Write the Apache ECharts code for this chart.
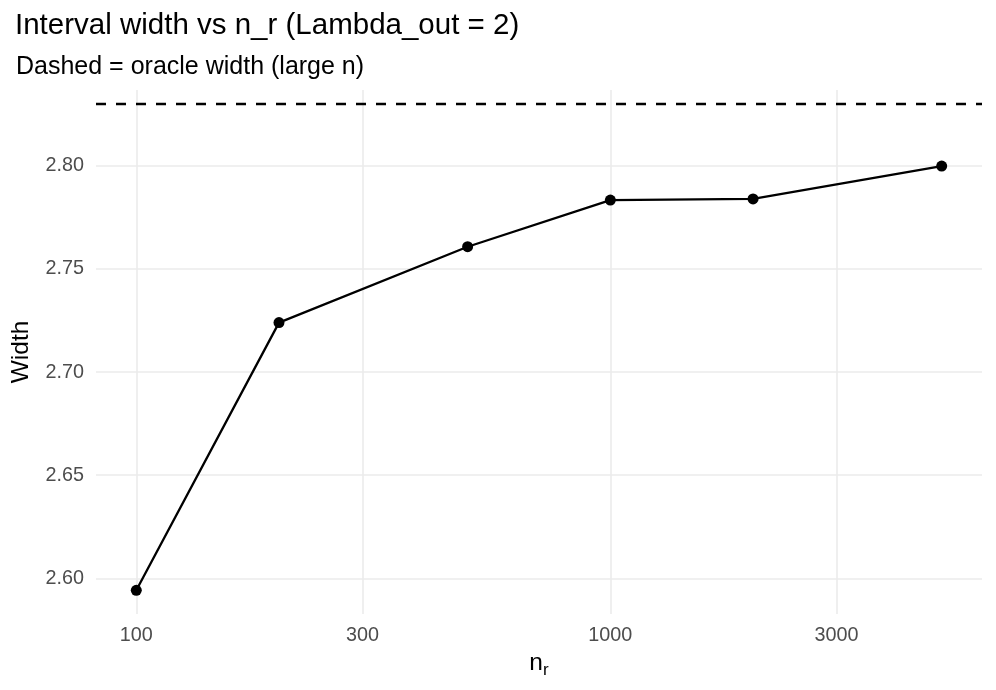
<!DOCTYPE html>
<html>
<head>
<meta charset="utf-8">
<script src="https://cdn.jsdelivr.net/npm/echarts@6/dist/echarts.min.js"></script>
<style>
  html, body { margin: 0; padding: 0; background: #fff; }
  #chart { width: 996px; height: 690px; }
</style>
</head>
<body>
<div id="chart"></div>
<script>
// ---- data ----
const nR = [100, 200, 500, 1000, 2000, 5000];
const widthValues = [2.5942, 2.7240, 2.7608, 2.7834, 2.7840, 2.7999];
const oracleWidth = [2.8253];
const xTickValues = [100, 300, 1000, 3000];
const yTickValues = [2.60, 2.65, 2.70, 2.75, 2.80];

const FONT = '"Liberation Sans", Arial, Helvetica, sans-serif';
const log10 = v => Math.log10(v);

const seriesData = nR.map((n, i) => [log10(n), widthValues[i]]);

const chart = echarts.init(document.getElementById('chart'), null, { renderer: 'canvas' });
chart.setOption({
  animation: false,
  backgroundColor: '#ffffff',
  title: [
    {
      text: 'Interval width vs n_r (Lambda_out = 2)',
      left: 10, top: 6,
      textStyle: { fontFamily: FONT, fontSize: 29.5, fontWeight: 'normal', color: '#000' }
    },
    {
      text: 'Dashed = oracle width (large n)',
      left: 11, top: 50,
      textStyle: { fontFamily: FONT, fontSize: 25, fontWeight: 'normal', color: '#000' }
    }
  ],
  grid: { left: 96, right: 14, top: 90, bottom: 76, containLabel: false, outerBoundsMode: 'none' },
  xAxis: {
    type: 'value',
    min: 1.915, max: 3.784,
    name: '{n|n}{r|r}',
    nameLocation: 'middle',
    nameGap: 31,
    nameTextStyle: {
      fontFamily: FONT, color: '#000',
      rich: {
        n: { fontFamily: FONT, fontSize: 24.5, color: '#000' },
        r: { fontFamily: FONT, fontSize: 17, color: '#000', padding: [14, 0, 0, 0] }
      }
    },
    axisLine: { show: false },
    axisTick: { show: false, customValues: xTickValues.map(log10) },
    axisLabel: {
      customValues: xTickValues.map(log10),
      formatter: v => String(Math.round(Math.pow(10, v))),
      fontFamily: FONT, fontSize: 19.8, color: '#4d4d4d', margin: 12
    },
    splitLine: { show: true, lineStyle: { color: '#ebebeb', width: 1.6 } }
  },
  yAxis: {
    type: 'value',
    min: 2.5827, max: 2.8368,
    name: 'Width',
    nameLocation: 'middle',
    nameRotate: 90,
    nameGap: 62,
    nameTextStyle: { fontFamily: FONT, fontSize: 24.5, color: '#000' },
    axisLine: { show: false },
    axisTick: { show: false, customValues: yTickValues },
    axisLabel: {
      customValues: yTickValues,
      formatter: v => v.toFixed(2),
      fontFamily: FONT, fontSize: 19.8, color: '#4d4d4d', margin: 12
    },
    splitLine: { show: true, lineStyle: { color: '#ebebeb', width: 1.6 } }
  },
  series: [
    {
      type: 'line',
      data: seriesData,
      symbol: 'circle',
      symbolSize: 11,
      itemStyle: { color: '#000' },
      lineStyle: { color: '#000', width: 2.3 },
      markLine: {
        silent: true,
        symbol: 'none',
        label: { show: false },
        lineStyle: { color: '#000', type: [10, 10], width: 2.4 },
        data: oracleWidth.map(v => ({ yAxis: v }))
      }
    }
  ]
});
</script>
</body>
</html>
